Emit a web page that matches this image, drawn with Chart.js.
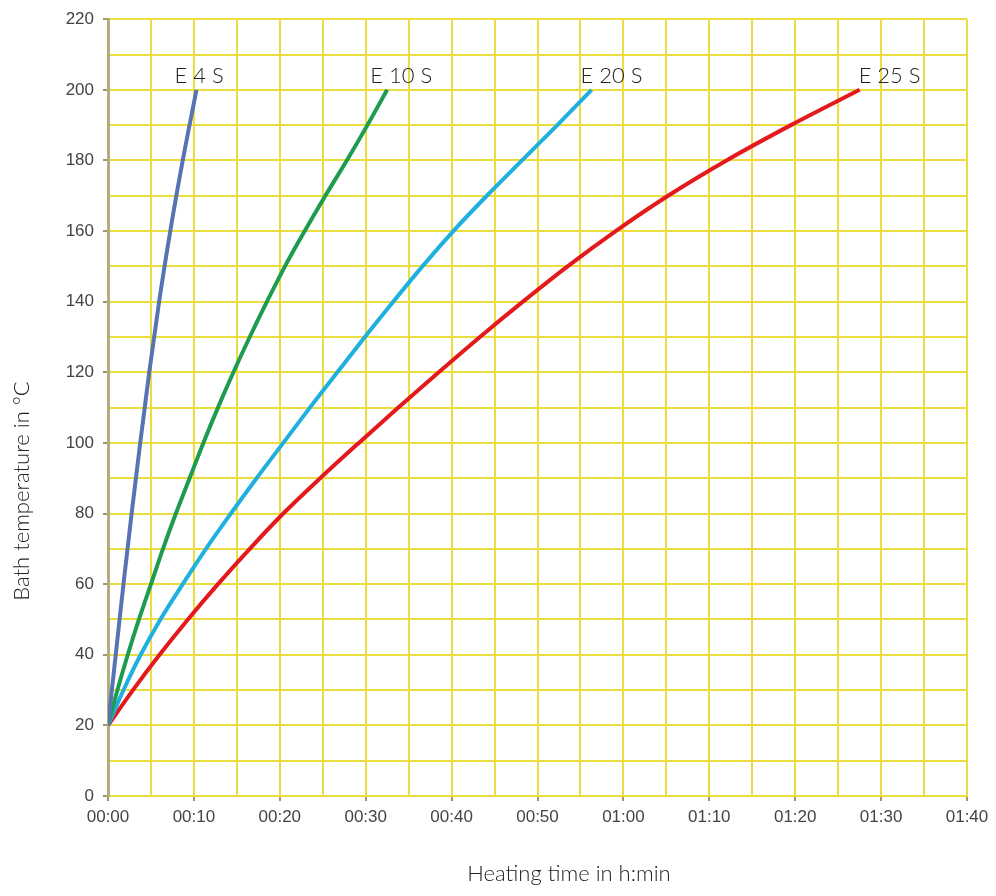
<!DOCTYPE html>
<html>
<head>
<meta charset="utf-8">
<script src="https://cdn.jsdelivr.net/npm/chart.js@4.4.1/dist/chart.umd.min.js"></script>
<style>
  html, body { margin: 0; padding: 0; background: #fff; }
  #wrap { width: 996px; height: 896px; }
</style>
</head>
<body>
<div id="wrap"><canvas id="heatChart" width="996" height="896"></canvas></div>
<script>
// Heating curves: bath temperature (°C) vs heating time (minutes)
const curveNames = ['E 4 S', 'E 10 S', 'E 20 S', 'E 25 S'];
const curveColors = ['#5673b4', '#1d9b4f', '#1fb0e0', '#e3191c'];

const e4sTemp = [20, 40, 60, 80, 100, 120, 140, 160, 180, 200];
const e4sMin  = [0, 0.9, 1.8, 2.75, 3.75, 4.8, 5.95, 7.25, 8.7, 10.3];

const stepTemp = [20, 30, 40, 50, 60, 70, 80, 90, 100, 110, 120, 130, 140, 150, 160, 170, 180, 190, 200];
const e10sMin = [0, 1.1, 2.3, 3.6, 5.0, 6.4, 7.9, 9.5, 11.1, 12.8, 14.6, 16.5, 18.5, 20.6, 22.9, 25.3, 27.8, 30.2, 32.5];
const e20sMin = [0, 1.8, 3.8, 6.1, 8.7, 11.4, 14.3, 17.3, 20.4, 23.5, 26.7, 29.9, 33.2, 36.6, 40.2, 44.1, 48.2, 52.3, 56.3];
const e25sMin = [0, 2.9, 6.0, 9.3, 12.8, 16.5, 20.4, 24.7, 29.2, 33.8, 38.5, 43.3, 48.3, 53.5, 59.1, 65.2, 72.0, 79.5, 87.5];

const xMax = 100;   // 01:40
const yMax = 220;

// label nudges (px) relative to each curve's end point
const labelShift = [-22, -17, -11, -1];

function toPoints(mins, temps) {
    return mins.map((m, i) => ({ x: m, y: temps[i] }));
}

function hhmm(v) {
    const h = Math.floor(v / 60);
    const m = v % 60;
    return String(h).padStart(2, '0') + ':' + String(m).padStart(2, '0');
}

const seriesPoints = [
    toPoints(e4sMin, e4sTemp),
    toPoints(e10sMin, stepTemp),
    toPoints(e20sMin, stepTemp),
    toPoints(e25sMin, stepTemp)
];

const gridYellow = '#ecdc3e';

// curve names next to the end of each line
const curveLabels = {
    id: 'curveLabels',
    afterDatasetsDraw(chart) {
        const ctx = chart.ctx;
        ctx.save();
        ctx.font = '300 22px Lato, "Open Sans", sans-serif';
        ctx.fillStyle = '#222';
        ctx.textAlign = 'left';
        ctx.textBaseline = 'alphabetic';
        chart.data.datasets.forEach((ds, i) => {
            const pts = chart.getDatasetMeta(i).data;
            const last = pts[pts.length - 1];
            ctx.fillText(ds.label, last.x + labelShift[i], last.y - 7);
        });
        ctx.restore();
    }
};

// axis titles, placed like in the original print
const axisTitles = {
    id: 'axisTitles',
    afterDraw(chart) {
        const ctx = chart.ctx;
        ctx.save();
        ctx.font = '300 22px Lato, "Open Sans", sans-serif';
        ctx.fillStyle = '#222';
        ctx.textAlign = 'center';
        ctx.textBaseline = 'middle';
        ctx.fillText('Heating time in h:min', 569, 874);
        ctx.translate(22, 491);
        ctx.rotate(-Math.PI / 2);
        ctx.fillText('Bath temperature in °C', 0, 0);
        ctx.restore();
    }
};

const ctx = document.getElementById('heatChart').getContext('2d');
const heatChart = new Chart(ctx, {
    type: 'scatter',
    data: {
        datasets: curveNames.map((name, i) => ({
            label: name,
            data: seriesPoints[i],
            showLine: true,
            borderColor: curveColors[i],
            backgroundColor: curveColors[i],
            borderWidth: 4,
            pointRadius: 0,
            cubicInterpolationMode: 'monotone'
        }))
    },
    options: {
        responsive: false,
        animation: false,
        layout: { padding: { left: 0, right: 29, top: 16, bottom: 0 } },
        plugins: {
            legend: { display: false },
            tooltip: { enabled: false }
        },
        scales: {
            x: {
                type: 'linear',
                min: 0,
                max: xMax,
                afterFit(scale) { scale.height = 100; },
                ticks: {
                    stepSize: 5,
                    autoSkip: false,
                    maxRotation: 0,
                    padding: 6,
                    color: '#444',
                    font: { family: '"Liberation Sans", Arial, sans-serif', size: 17 },
                    callback: (v) => (v % 10 === 0 ? hhmm(v) : '')
                },
                grid: {
                    color: gridYellow,
                    lineWidth: 2,
                    tickLength: 5,
                    tickColor: (c) => (c.tick && c.tick.value % 10 === 0 ? '#9a9670' : 'rgba(0,0,0,0)')
                },
                border: { color: gridYellow, width: 2 }
            },
            y: {
                min: 0,
                max: yMax,
                afterFit(scale) { scale.width = 108; },
                ticks: {
                    stepSize: 10,
                    autoSkip: false,
                    padding: 9,
                    color: '#444',
                    font: { family: '"Liberation Sans", Arial, sans-serif', size: 17 },
                    callback: (v) => (v % 20 === 0 ? String(v) : '')
                },
                grid: {
                    color: gridYellow,
                    lineWidth: 2,
                    tickLength: 5,
                    tickColor: (c) => (c.tick && c.tick.value % 20 === 0 ? '#9a9670' : 'rgba(0,0,0,0)')
                },
                border: { color: '#b3ad7a', width: 3 }
            }
        }
    },
    plugins: [curveLabels, axisTitles]
});
</script>
</body>
</html>
